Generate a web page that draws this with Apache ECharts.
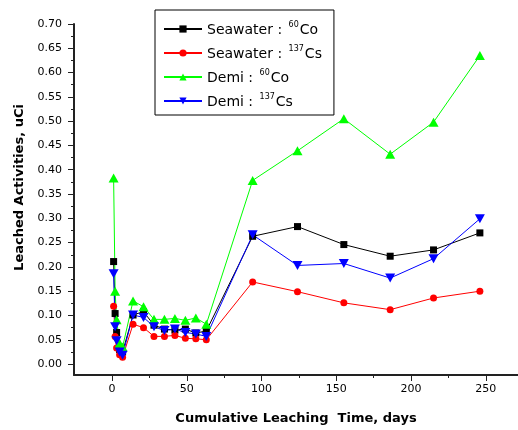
<!DOCTYPE html>
<html>
<head>
<meta charset="utf-8">
<script src="https://cdn.jsdelivr.net/npm/echarts@6/dist/echarts.min.js"></script>
<style>
html,body{margin:0;padding:0;background:#fff;}
#chart{width:518px;height:430px;}
</style>
</head>
<body>
<div id="chart"></div>
<script>
var days = [1, 2, 3, 5, 7, 14, 21, 28, 35, 42, 49, 56, 63, 94, 124, 155, 186, 215, 246];
var seawaterCo60  = [0.211, 0.104, 0.065, 0.030, 0.025, 0.101, 0.108, 0.080, 0.072, 0.070, 0.072, 0.064, 0.068, 0.263, 0.283, 0.246, 0.222, 0.235, 0.270];
var seawaterCs137 = [0.119, 0.057, 0.033, 0.019, 0.014, 0.082, 0.075, 0.057, 0.057, 0.059, 0.053, 0.052, 0.050, 0.169, 0.149, 0.126, 0.112, 0.136, 0.150];
var demiCo60      = [0.383, 0.150, 0.091, 0.043, 0.035, 0.130, 0.118, 0.092, 0.092, 0.094, 0.090, 0.095, 0.082, 0.378, 0.439, 0.505, 0.432, 0.498, 0.635];
var demiCs137     = [0.186, 0.077, 0.048, 0.025, 0.018, 0.101, 0.096, 0.077, 0.069, 0.072, 0.065, 0.062, 0.057, 0.266, 0.203, 0.207, 0.177, 0.217, 0.299];

var xTicks = [0, 50, 100, 150, 200, 250];
var xMinorTicks = [25, 75, 125, 175, 225];
var yTicks = [0, 0.05, 0.10, 0.15, 0.20, 0.25, 0.30, 0.35, 0.40, 0.45, 0.50, 0.55, 0.60, 0.65, 0.70];
var yMinorTicks = [0.025, 0.075, 0.125, 0.175, 0.225, 0.275, 0.325, 0.375, 0.425, 0.475, 0.525, 0.575, 0.625, 0.675];

var seriesNames = ['Seawater : 60Co', 'Seawater : 137Cs', 'Demi : 60Co', 'Demi : 137Cs'];
var legendRich = {
  'Seawater : 60Co': '{n|Seawater : }{s|60}{n|Co}',
  'Seawater : 137Cs': '{n|Seawater : }{s|137}{n|Cs}',
  'Demi : 60Co': '{n|Demi : }{s|60}{n|Co}',
  'Demi : 137Cs': '{n|Demi : }{s|137}{n|Cs}'
};

function pairs(vals) {
  return days.map(function (d, i) { return [d, vals[i]]; });
}

var FONT = 'DejaVu Sans';
var chart = echarts.init(document.getElementById('chart'), null, {renderer: 'canvas'});

var option = {
  animation: false,
  backgroundColor: '#ffffff',
  grid: {left: 74, right: 0, top: 24, bottom: 53, containLabel: false},
  legend: {
    orient: 'vertical',
    left: 155,
    top: 10,
    padding: [11, 12, 6, 8],
    itemGap: 8,
    itemWidth: 38,
    itemHeight: 9,
    borderColor: '#000',
    borderWidth: 1,
    backgroundColor: '#fff',
    data: seriesNames,
    formatter: function (name) { return legendRich[name]; },
    textStyle: {
      color: '#000',
      fontFamily: FONT,
      fontSize: 14,
      lineHeight: 16,
      rich: {
        n: {fontFamily: FONT, fontSize: 14, color: '#000', lineHeight: 16, verticalAlign: 'bottom'},
        s: {fontFamily: FONT, fontSize: 8, color: '#000', lineHeight: 16, verticalAlign: 'top', padding: [0, 1, 0, 2]}
      }
    }
  },
  xAxis: [{
    type: 'value',
    min: -25.5,
    max: 271.5,
    position: 'bottom',
    name: 'Cumulative Leaching  Time, days',
    nameLocation: 'middle',
    nameGap: 37,
    nameTextStyle: {fontFamily: FONT, fontSize: 13, fontWeight: 'bold', color: '#000'},
    axisLine: {show: true, onZero: false, lineStyle: {color: '#222', width: 2}},
    axisTick: {show: true, inside: false, length: 6, customValues: xTicks, lineStyle: {color: '#222', width: 1}},
    axisLabel: {show: true, margin: 9, customValues: xTicks, fontFamily: FONT, fontSize: 11, color: '#000',
      formatter: function (v) { return String(v); }},
    splitLine: {show: false}
  }, {
    type: 'value',
    min: -25.5,
    max: 271.5,
    position: 'bottom',
    offset: 0,
    axisLine: {show: false, onZero: false},
    axisTick: {show: true, inside: false, length: 3, customValues: xMinorTicks, lineStyle: {color: '#222', width: 1}},
    axisLabel: {show: false},
    splitLine: {show: false}
  }],
  yAxis: [{
    type: 'value',
    min: -0.0225,
    max: 0.70,
    position: 'left',
    name: 'Leached Activities, uCi',
    nameLocation: 'middle',
    nameGap: 34,
    nameTextStyle: {fontFamily: FONT, fontSize: 13, fontWeight: 'bold', color: '#000', padding: [0, 0, 0, 24]},
    axisLine: {show: true, onZero: false, lineStyle: {color: '#222', width: 2}},
    axisTick: {show: true, inside: false, length: 6, customValues: yTicks, lineStyle: {color: '#222', width: 1}},
    axisLabel: {show: true, margin: 12, customValues: yTicks, fontFamily: FONT, fontSize: 11, color: '#000',
      formatter: function (v) { return v.toFixed(2); }},
    splitLine: {show: false}
  }, {
    type: 'value',
    min: -0.0225,
    max: 0.70,
    position: 'left',
    offset: 0,
    axisLine: {show: false, onZero: false},
    axisTick: {show: true, inside: false, length: 3, customValues: yMinorTicks, lineStyle: {color: '#222', width: 1}},
    axisLabel: {show: false},
    splitLine: {show: false}
  }],
  series: [{
    name: seriesNames[0], type: 'line', xAxisIndex: 0, yAxisIndex: 0,
    data: pairs(seawaterCo60),
    symbol: 'rect', symbolSize: 7,
    lineStyle: {color: '#000000', width: 1},
    itemStyle: {color: '#000000'}
  }, {
    name: seriesNames[1], type: 'line', xAxisIndex: 0, yAxisIndex: 0,
    data: pairs(seawaterCs137),
    symbol: 'circle', symbolSize: 7,
    lineStyle: {color: '#ff0000', width: 1},
    itemStyle: {color: '#ff0000'}
  }, {
    name: seriesNames[2], type: 'line', xAxisIndex: 0, yAxisIndex: 0,
    data: pairs(demiCo60),
    symbol: 'triangle', symbolSize: [10, 9],
    lineStyle: {color: '#00ff00', width: 1},
    itemStyle: {color: '#00ff00'}
  }, {
    name: seriesNames[3], type: 'line', xAxisIndex: 0, yAxisIndex: 0,
    data: pairs(demiCs137),
    symbol: 'path://M0,0 L10,0 L5,9 Z', symbolSize: [10, 9],
    lineStyle: {color: '#0000ff', width: 1},
    itemStyle: {color: '#0000ff'}
  }]
};
chart.setOption(option);
</script>
</body>
</html>
